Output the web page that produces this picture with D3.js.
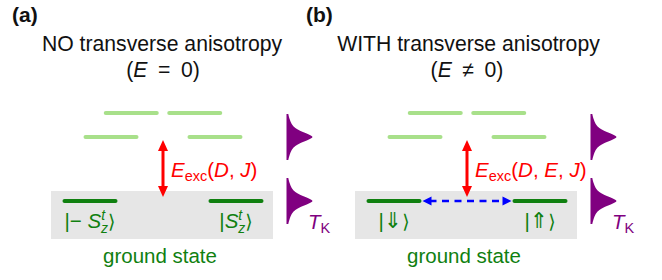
<!DOCTYPE html>
<html><head><meta charset="utf-8">
<script src="https://cdn.jsdelivr.net/npm/d3@7"></script>
<style>
body{margin:0;background:#fff}
svg{display:block;font-family:"Liberation Sans",Arial,Helvetica,sans-serif}
</style>
</head><body>
<svg id="c" width="662" height="280"></svg>
<script>
// ---- data ----
const panelLabels = ["(a)", "(b)"];
const titles = ["NO transverse anisotropy", "WITH transverse anisotropy"];
const conditions = ["=", "≠"];                 // E = 0 / E ≠ 0
const levelEnergies = [0, 1, 1.375];           // ground, 1st excited, 2nd excited (arb. units)
const levelPositions = [1, 0.712, 0.435];      // ± position of each doublet
const groundKetsA = ["−S", "S"];
const groundKetsB = ["⇓", "⇑"];
const gapArgs = [["D", "J"], ["D", "E", "J"]];
const kondoOffsets = [-23,-18,-13,-9,-6,-3,0,3,6,9,13,18,23];
const kondoWeights = [0.07,0.12,0.2,0.34,0.54,0.82,1,0.82,0.54,0.34,0.2,0.12,0.07];
const groundLabel = "ground state";

// ---- style ----
const C = {light:"#a8e08a", dark:"#108010", red:"#ff0000", blue:"#0000ff", purple:"#800080", box:"#e6e6e6", text:"#111"};
const FS = 20.5;
const panelOffsets = [0, 304];

const svg = d3.select("#c");
const x = d3.scaleLinear().domain([-1, 1]).range([90, 236]);
const y = d3.scaleLinear().domain([0, 1]).range([201, 137]);
const halfW = 25.5;
const kw = d3.scaleLinear().domain([0, 1]).range([0, 26]);

function arrowHead(g, tx, ty, dx, dy, len, wid, color) {
  const px = -dy, py = dx;
  const bx = tx - dx * len, by = ty - dy * len;
  g.append("path")
    .attr("d", `M${tx},${ty}L${bx + px * wid / 2},${by + py * wid / 2}L${bx - px * wid / 2},${by - py * wid / 2}Z`)
    .attr("fill", color);
}

panelOffsets.forEach((off, p) => {
  const g = svg.append("g").attr("transform", `translate(${off},0)`);

  // panel label
  g.append("text").attr("x", p === 0 ? 12 : 2).attr("y", 22)
    .attr("font-weight", "bold").attr("font-size", 21).attr("fill", C.text)
    .text(panelLabels[p]);

  // title
  g.append("text").attr("x", p === 0 ? 162 : 164.5).attr("y", 51)
    .attr("text-anchor", "middle").attr("font-size", 21.2).attr("fill", C.text)
    .text(titles[p]);
  const sub = g.append("text").attr("x", 163).attr("y", 77)
    .attr("text-anchor", "middle").attr("font-size", 21.2).attr("fill", C.text);
  sub.append("tspan").text("(");
  sub.append("tspan").attr("font-style", "italic").text("E");
  sub.append("tspan").text("\u2002" + conditions[p] + "\u2002" + "0)");

  // gray ground box
  g.append("rect").attr("x", 51).attr("y", y(0) - 10)
    .attr("width", 222).attr("height", 48).attr("fill", C.box);

  // excited levels
  levelEnergies.slice(1).forEach((e, i) => {
    const pos = levelPositions[i + 1];
    [-pos, pos].forEach(m => {
      g.append("line")
        .attr("x1", x(m) - halfW).attr("x2", x(m) + halfW)
        .attr("y1", y(e)).attr("y2", y(e))
        .attr("stroke", C.light).attr("stroke-width", 4).attr("stroke-linecap", "round");
    });
  });
  // ground levels
  [-levelPositions[0], levelPositions[0]].forEach(m => {
    g.append("line")
      .attr("x1", x(m) - halfW).attr("x2", x(m) + halfW)
      .attr("y1", y(0)).attr("y2", y(0))
      .attr("stroke", C.dark).attr("stroke-width", 4).attr("stroke-linecap", "round");
  });

  // blue tunnelling arrow (panel b)
  if (p === 1) {
    const xa = x(-1) + halfW + 3, xb = x(1) - halfW - 3;
    g.append("line").attr("x1", xa + 7).attr("x2", xb - 7)
      .attr("y1", y(0)).attr("y2", y(0))
      .attr("stroke", C.blue).attr("stroke-width", 2.6).attr("stroke-dasharray", "7,5.5");
    arrowHead(g, xa, y(0), -1, 0, 9, 9, C.blue);
    arrowHead(g, xb, y(0), 1, 0, 9, 9, C.blue);
  }

  // red excitation arrow
  const ax = x(0);
  const ya = y(0) - 4, yb = y(1) + 3;
  g.append("line").attr("x1", ax).attr("x2", ax).attr("y1", ya - 9).attr("y2", yb + 9)
    .attr("stroke", C.red).attr("stroke-width", 3);
  arrowHead(g, ax, ya, 0, 1, 11, 10, C.red);
  arrowHead(g, ax, yb, 0, -1, 11, 10, C.red);

  // E_exc label
  const el = g.append("text").attr("x", 171).attr("y", 177)
    .attr("font-size", FS).attr("fill", C.red);
  el.append("tspan").attr("font-style", "italic").text("E");
  el.append("tspan").attr("font-size", 14.5).attr("dy", 4).text("exc");
  el.append("tspan").attr("dy", -4).text("(");
  gapArgs[p].forEach((a, i) => {
    if (i > 0) el.append("tspan").text(", ");
    el.append("tspan").attr("font-style", "italic").text(a);
  });
  el.append("tspan").text(")");

  // ground kets
  [-1, 1].forEach((m, i) => {
    const t = g.append("text").attr("x", x(m)).attr("y", 228)
      .attr("text-anchor", "middle").attr("font-size", FS).attr("fill", C.dark);
    if (p === 0) {
      const s = groundKetsA[i];
      t.append("tspan").text("|" + (s.length > 1 ? "− " : ""));
      t.append("tspan").attr("font-style", "italic").text("S");
      t.append("tspan").attr("font-style", "italic").attr("font-size", 14).attr("dy", -8).text("t");
      t.append("tspan").attr("font-style", "italic").attr("font-size", 14).attr("dx", -4).attr("dy", 13).text("z");
      t.append("tspan").attr("dy", -5).attr("font-family", "DejaVu Sans").attr("font-size", 19).text("⟩");
    } else {
      t.append("tspan").text("|");
      t.append("tspan").attr("font-family", "DejaVu Sans").attr("font-size", 22).text(groundKetsB[i]);
      t.append("tspan").attr("font-family", "DejaVu Sans").attr("font-size", 19).text("⟩");
    }
  });

  // ground state label
  g.append("text").attr("x", 160).attr("y", 263).attr("text-anchor", "middle")
    .attr("font-size", FS).attr("fill", C.dark).text(groundLabel);

  // Kondo peaks
  const kx = 286.5;
  const area = d3.area()
    .y(d => d)
    .x0(kx)
    .x1((d, i) => kx + kw(kondoWeights[i]))
    .curve(d3.curveCatmullRom);
  [1, 0].forEach(e => {
    const pts = kondoOffsets.map(o => y(e) + o);
    g.append("path").attr("d", area(pts)).attr("fill", C.purple);
  });
  const tk = g.append("text").attr("x", 308).attr("y", 229)
    .attr("font-size", FS).attr("fill", C.purple);
  tk.append("tspan").attr("font-style", "italic").text("T");
  tk.append("tspan").attr("font-size", 14.5).attr("dy", 4).text("K");
});
</script>
</body></html>
